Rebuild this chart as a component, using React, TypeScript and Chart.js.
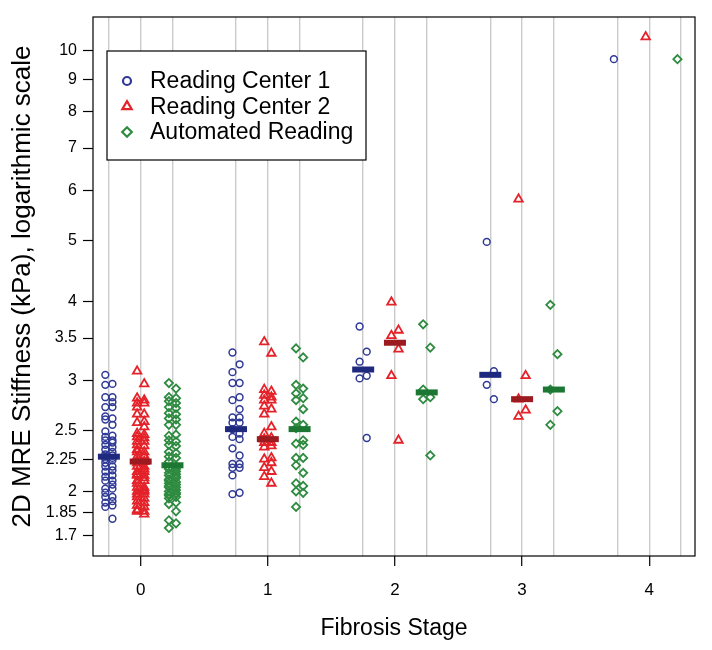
import React, { useEffect, useRef } from 'react';
import { Chart, registerables } from 'chart.js';

Chart.register(...registerables);

// ---- data ----
const stageLabels = ['0', '1', '2', '3', '4'];
const yTickValues = [1.7, 1.85, 2, 2.25, 2.5, 3, 3.5, 4, 5, 6, 7, 8, 9, 10];
const seriesNames = ['Reading Center 1', 'Reading Center 2', 'Automated Reading'];

const rc1Stage0 = [3.06, 2.96, 2.95, 2.82, 2.82, 2.77, 2.72, 2.72, 2.63, 2.61, 2.60, 2.55, 2.49, 2.45, 2.44, 2.41, 2.41, 2.39, 2.37, 2.35, 2.33, 2.31, 2.29, 2.28, 2.27, 2.26, 2.25, 2.24, 2.22, 2.19, 2.19, 2.16, 2.15, 2.12, 2.11, 2.08, 2.08, 2.05, 2.02, 2.02, 1.99, 1.96, 1.96, 1.93, 1.92, 1.90, 1.89, 1.81];
const rc1Stage1 = [3.32, 3.18, 3.09, 2.97, 2.97, 2.82, 2.79, 2.70, 2.62, 2.62, 2.57, 2.57, 2.51, 2.47, 2.44, 2.42, 2.34, 2.28, 2.21, 2.21, 2.18, 2.18, 2.12, 1.99, 1.98];
const rc1Stage2 = [3.65, 3.33, 3.21, 3.05, 3.02, 2.43];
const rc1Stage3 = [4.97, 3.10, 2.95, 2.80];
const rc1Stage4 = [9.68];

const rc2Stage0 = [3.10, 2.96, 2.81, 2.79, 2.76, 2.76, 2.72, 2.65, 2.65, 2.58, 2.57, 2.53, 2.47, 2.46, 2.44, 2.43, 2.40, 2.40, 2.37, 2.36, 2.33, 2.31, 2.31, 2.28, 2.27, 2.27, 2.24, 2.23, 2.22, 2.19, 2.19, 2.17, 2.15, 2.15, 2.13, 2.12, 2.12, 2.10, 2.08, 2.08, 2.06, 2.03, 2.03, 2.01, 2.00, 2.00, 1.98, 1.98, 1.96, 1.95, 1.93, 1.92, 1.90, 1.89, 1.87, 1.86, 1.86, 1.84];
const rc2Stage1 = [3.45, 3.31, 2.90, 2.88, 2.84, 2.82, 2.79, 2.79, 2.73, 2.70, 2.65, 2.53, 2.47, 2.43, 2.42, 2.39, 2.39, 2.36, 2.35, 2.26, 2.25, 2.22, 2.18, 2.15, 2.11, 2.06];
const rc2Stage2 = [3.99, 3.60, 3.53, 3.36, 3.05, 2.41];
const rc2Stage3 = [5.81, 3.05, 2.80, 2.69, 2.63];
const rc2Stage4 = [10.5];

const autoStage0 = [2.97, 2.91, 2.82, 2.81, 2.78, 2.76, 2.72, 2.71, 2.66, 2.65, 2.61, 2.60, 2.55, 2.55, 2.45, 2.46, 2.41, 2.40, 2.37, 2.36, 2.31, 2.30, 2.27, 2.26, 2.23, 2.19, 2.18, 2.17, 2.17, 2.15, 2.14, 2.13, 2.12, 2.11, 2.09, 2.10, 2.08, 2.07, 2.06, 2.05, 2.04, 2.03, 2.03, 2.01, 2.00, 1.99, 1.98, 1.98, 1.97, 1.96, 1.95, 1.92, 1.91, 1.86, 1.80, 1.78, 1.75];
const autoStage1 = [3.37, 3.26, 2.95, 2.91, 2.86, 2.81, 2.79, 2.70, 2.58, 2.55, 2.52, 2.41, 2.38, 2.37, 2.26, 2.26, 2.20, 2.14, 2.06, 2.04, 2.00, 1.99, 1.89];
const autoStage2 = [3.68, 3.38, 2.90, 2.82, 2.80, 2.28];
const autoStage3 = [3.95, 3.30, 2.90, 2.68, 2.55];
const autoStage4 = [9.68];

const rc1Medians = [2.27, 2.51, 3.12, 3.06, null];
const rc2Medians = [2.23, 2.42, 3.44, 2.80, null];
const autoMedians = [2.20, 2.51, 2.87, 2.90, null];

// ---- styling ----
const FONT = '"Liberation Sans", Arial, Helvetica, sans-serif';
const rc1Color = '#2f3a96';
const rc2Color = '#e42229';
const autoColor = '#2e8b40';
const rc1MedColor = '#1f2a7e';
const rc2MedColor = '#9c1b20';
const autoMedColor = '#1c7733';
const groupOffsets = [-0.25, 0, 0.25];
const JITTER = 0.028;

const seriesValues = [
  [rc1Stage0, rc1Stage1, rc1Stage2, rc1Stage3, rc1Stage4],
  [rc2Stage0, rc2Stage1, rc2Stage2, rc2Stage3, rc2Stage4],
  [autoStage0, autoStage1, autoStage2, autoStage3, autoStage4],
];
const seriesMedians = [rc1Medians, rc2Medians, autoMedians];
const seriesColors = [rc1Color, rc2Color, autoColor];
const medianColors = [rc1MedColor, rc2MedColor, autoMedColor];
const pointStyles = ['circle', 'triangle', 'rectRot'];
const pointRadii = [3.4, 4.9, 4.1];
const pointWidths = [1.5, 1.8, 1.8];

function drawSymbol(ctx: CanvasRenderingContext2D, style: string, x: number, y: number) {
  ctx.beginPath();
  if (style === 'circle') {
    ctx.arc(x, y, 4, 0, Math.PI * 2);
  } else if (style === 'triangle') {
    const r = 5.4;
    ctx.moveTo(x, y - r);
    ctx.lineTo(x + r * Math.sin(2 * Math.PI / 3), y - r * Math.cos(2 * Math.PI / 3));
    ctx.lineTo(x + r * Math.sin(4 * Math.PI / 3), y - r * Math.cos(4 * Math.PI / 3));
    ctx.closePath();
  } else {
    const r = 4.8;
    ctx.moveTo(x - r, y);
    ctx.lineTo(x, y - r);
    ctx.lineTo(x + r, y);
    ctx.lineTo(x, y + r);
    ctx.closePath();
  }
  ctx.stroke();
}

const framePlugin = {
  id: 'frameAndLegend',
  afterDatasetsDraw(chart: any) {
    const { ctx, chartArea: a } = chart;
    ctx.save();
    ctx.strokeStyle = '#000';
    ctx.lineWidth = 1.2;
    ctx.strokeRect(a.left, a.top, a.right - a.left, a.bottom - a.top);

    const lx = a.left + 14;
    const ly = a.top + 34;
    const lw = 259;
    const lh = 109;
    ctx.fillStyle = '#fff';
    ctx.fillRect(lx, ly, lw, lh);
    ctx.strokeRect(lx, ly, lw, lh);
    ctx.font = `23px ${FONT}`;
    ctx.textBaseline = 'middle';
    ctx.textAlign = 'left';
    seriesNames.forEach((name, i) => {
      const cy = ly + 30 + i * 25.5;
      ctx.strokeStyle = seriesColors[i];
      ctx.lineWidth = 2.2;
      drawSymbol(ctx, pointStyles[i], lx + 20, cy);
      ctx.fillStyle = '#000';
      ctx.fillText(name, lx + 43, cy + 1);
    });
    ctx.restore();
  },
};

export default function App() {
  const canvasRef = useRef<HTMLCanvasElement | null>(null);

  useEffect(() => {
    if (!canvasRef.current) return;
    const pointDatasets = seriesNames.map((name, s) => ({
      type: 'scatter' as const,
      label: name,
      data: seriesValues[s].flatMap((vals, stage) =>
        vals.map((v, i) => ({ x: stage + groupOffsets[s] + (i % 2 === 0 ? -JITTER : JITTER), y: v }))
      ),
      pointStyle: pointStyles[s],
      pointRadius: pointRadii[s],
      pointBorderWidth: pointWidths[s],
      borderColor: seriesColors[s],
      backgroundColor: 'rgba(0,0,0,0)',
      order: 2,
    }));
    const medianDatasets = seriesNames.map((name, s) => ({
      type: 'scatter' as const,
      label: name + ' median',
      data: seriesMedians[s]
        .map((m, stage) => (m == null ? null : { x: stage + groupOffsets[s], y: m }))
        .filter((p) => p !== null),
      pointStyle: 'line',
      pointRadius: 11,
      pointBorderWidth: 6,
      borderColor: medianColors[s],
      backgroundColor: medianColors[s],
      order: 1,
    }));

    const gridPositions: number[] = [];
    stageLabels.forEach((_, k) => groupOffsets.forEach((o) => gridPositions.push(k + o)));

    const chart = new Chart(canvasRef.current, {
      type: 'scatter',
      data: { datasets: [...pointDatasets, ...medianDatasets] as any },
      options: {
        responsive: false,
        animation: false,
        devicePixelRatio: 1,
        layout: { padding: { top: 8, right: 7, left: 0, bottom: 0 } },
        plugins: { legend: { display: false }, tooltip: { enabled: false } },
        scales: {
          x: {
            type: 'linear',
            min: -0.375,
            max: 4.36,
            afterBuildTicks: (axis: any) => {
              axis.ticks = gridPositions.map((v) => ({ value: v }));
            },
            afterFit: (axis: any) => {
              axis.height = 94;
            },
            ticks: {
              autoSkip: false,
              maxRotation: 0,
              padding: 14,
              color: '#000',
              font: { family: FONT, size: 17 },
              callback: (v: any) => {
                const n = Number(v);
                return Number.isInteger(n) ? stageLabels[n] : '';
              },
            },
            grid: {
              drawOnChartArea: true,
              color: '#cbcbcb',
              lineWidth: 1.4,
              tickLength: 10,
              tickWidth: 1.2,
              tickColor: (c: any) =>
                c.tick && Number.isInteger(c.tick.value) ? '#000' : 'rgba(0,0,0,0)',
            },
            border: { display: false },
            title: {
              display: true,
              text: 'Fibrosis Stage',
              color: '#000',
              font: { family: FONT, size: 23 },
              padding: { top: 0, bottom: 8 },
            },
          },
          y: {
            type: 'logarithmic',
            min: 1.58,
            max: 11.29,
            afterBuildTicks: (axis: any) => {
              axis.ticks = yTickValues.map((v) => ({ value: v }));
            },
            afterFit: (axis: any) => {
              axis.width = 93;
            },
            ticks: {
              autoSkip: false,
              padding: 6,
              color: '#000',
              font: { family: FONT, size: 16 },
              callback: (v: any) => String(v),
            },
            grid: {
              drawOnChartArea: false,
              tickLength: 10,
              tickWidth: 1.2,
              tickColor: '#000',
            },
            border: { display: false },
            title: {
              display: true,
              text: '2D MRE Stiffness (kPa), logarithmic scale',
              color: '#000',
              font: { family: FONT, size: 26 },
              padding: { top: 7, bottom: 0 },
            },
          },
        },
      },
      plugins: [framePlugin],
    });
    return () => chart.destroy();
  }, []);

  return (
    <div style={{ position: 'fixed', left: 0, top: 0, width: 712, height: 650, background: '#fff' }}>
      <canvas ref={canvasRef} width={712} height={650} />
    </div>
  );
}
